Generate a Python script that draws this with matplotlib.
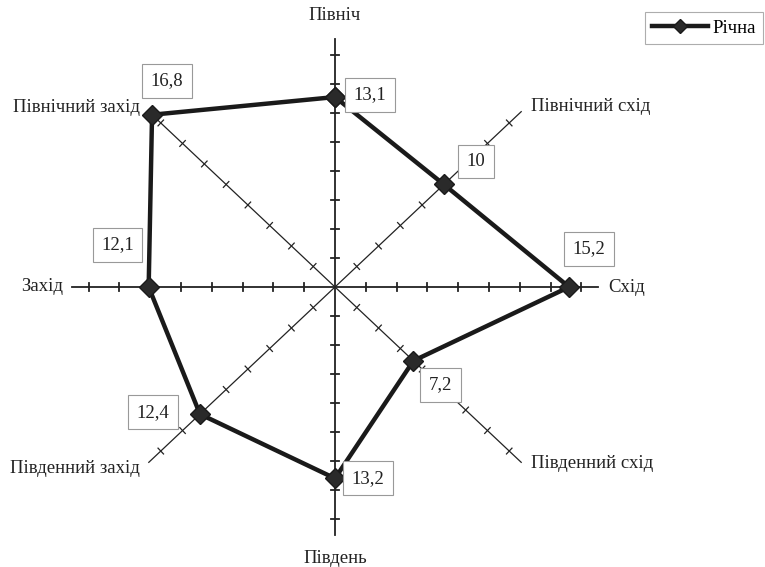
import numpy as np
import matplotlib
matplotlib.use("Agg")
import matplotlib.pyplot as plt
from matplotlib.lines import Line2D

directions = ["Північ", "Північний схід", "Схід", "Південний схід",
              "Південь", "Південний захід", "Захід", "Північний захід"]
angles_deg = [90, 45, 0, -45, -90, -135, 180, 135]
values = [13.1, 10.0, 15.2, 7.2, 13.2, 12.4, 12.1, 16.8]
value_labels = ["13,1", "10", "15,2", "7,2", "13,2", "12,4", "12,1", "16,8"]
series_name = "Річна"
tick_values = [2, 4, 6, 8, 10, 12, 14, 16]
axis_max = 17.1

plt.rcParams['font.family'] = ['Liberation Serif', 'DejaVu Serif']
FS = 13.5
W, H, DPI = 765, 567, 100
fig = plt.figure(figsize=(W / DPI, H / DPI), dpi=DPI)
ax = fig.add_axes([0, 0, 1, 1])
cx, cy = 335, 287          # centre in pixels (from top)
sx, sy = 15.4, 14.5        # pixels per unit
ax.set_xlim(-cx / sx, (W - cx) / sx)
ax.set_ylim(-(H - cy) / sy, cy / sy)
ax.axis('off')

ang = np.deg2rad(angles_deg)
# axes lines and ticks
for a in ang:
    ux, uy = np.cos(a), np.sin(a)
    main = abs(ux) < 1e-6 or abs(uy) < 1e-6
    lw = 1.3 if main else 0.9
    ax.plot([0, axis_max * ux], [0, axis_max * uy], color='#222222', lw=lw, zorder=1)
    dpx, dpy = ux * sx, uy * sy
    n = np.hypot(dpx, dpy)
    px, py = -dpy / n, dpx / n
    half = 4.0
    for t in tick_values:
        x0, y0 = t * ux, t * uy
        ax.plot([x0 - px * half / sx, x0 + px * half / sx],
                [y0 - py * half / sy, y0 + py * half / sy],
                color='#222222', lw=lw, zorder=1)

# data polygon
xs = [v * np.cos(a) for v, a in zip(values, ang)]
ys = [v * np.sin(a) for v, a in zip(values, ang)]
ax.plot(xs + [xs[0]], ys + [ys[0]], color='#1a1a1a', lw=3.2, zorder=3,
        marker='D', markersize=10.5, markerfacecolor='#2a2a2a',
        markeredgecolor='#1a1a1a', solid_joinstyle='miter')

# value labels (pixel offsets)
val_off = [(35, 2), (32, 23), (20, 38), (27, -24), (33, 0), (-47, 2), (-31, 42), (15, 34)]
for x, y, lab, off in zip(xs, ys, value_labels, val_off):
    ax.annotate(lab, (x, y), xytext=off, textcoords='offset pixels',
                ha='center', va='center', fontsize=FS, color='#222222', zorder=4,
                bbox=dict(boxstyle='square,pad=0.45', fc='white', ec='#999999', lw=0.8))

# direction labels
dir_off = [(0, 24, 'center'), (10, 5, 'left'), (10, 0, 'left'), (10, -1, 'left'),
           (0, -24, 'center'), (-9, -6, 'right'), (-9, 0, 'right'), (-9, 4, 'right')]
for a, name, (ox, oy, ha) in zip(ang, directions, dir_off):
    ax.annotate(name, (axis_max * np.cos(a), axis_max * np.sin(a)), xytext=(ox, oy),
                textcoords='offset pixels', ha=ha, va='center', fontsize=FS,
                color='#222222')

handle = Line2D([], [], color='#1a1a1a', lw=3.2, marker='D', markersize=7,
                markerfacecolor='#2a2a2a')
leg = fig.legend([handle], [series_name], loc='upper right',
                 bbox_to_anchor=(763 / W, 1 - 12 / H), fontsize=FS, frameon=True,
                 fancybox=False, handlelength=3.0, borderpad=0.4, handletextpad=0.2,
                 borderaxespad=0)
leg.get_frame().set_edgecolor('#999999')
leg.get_frame().set_linewidth(0.8)

fig.savefig('out.png', dpi=DPI)
